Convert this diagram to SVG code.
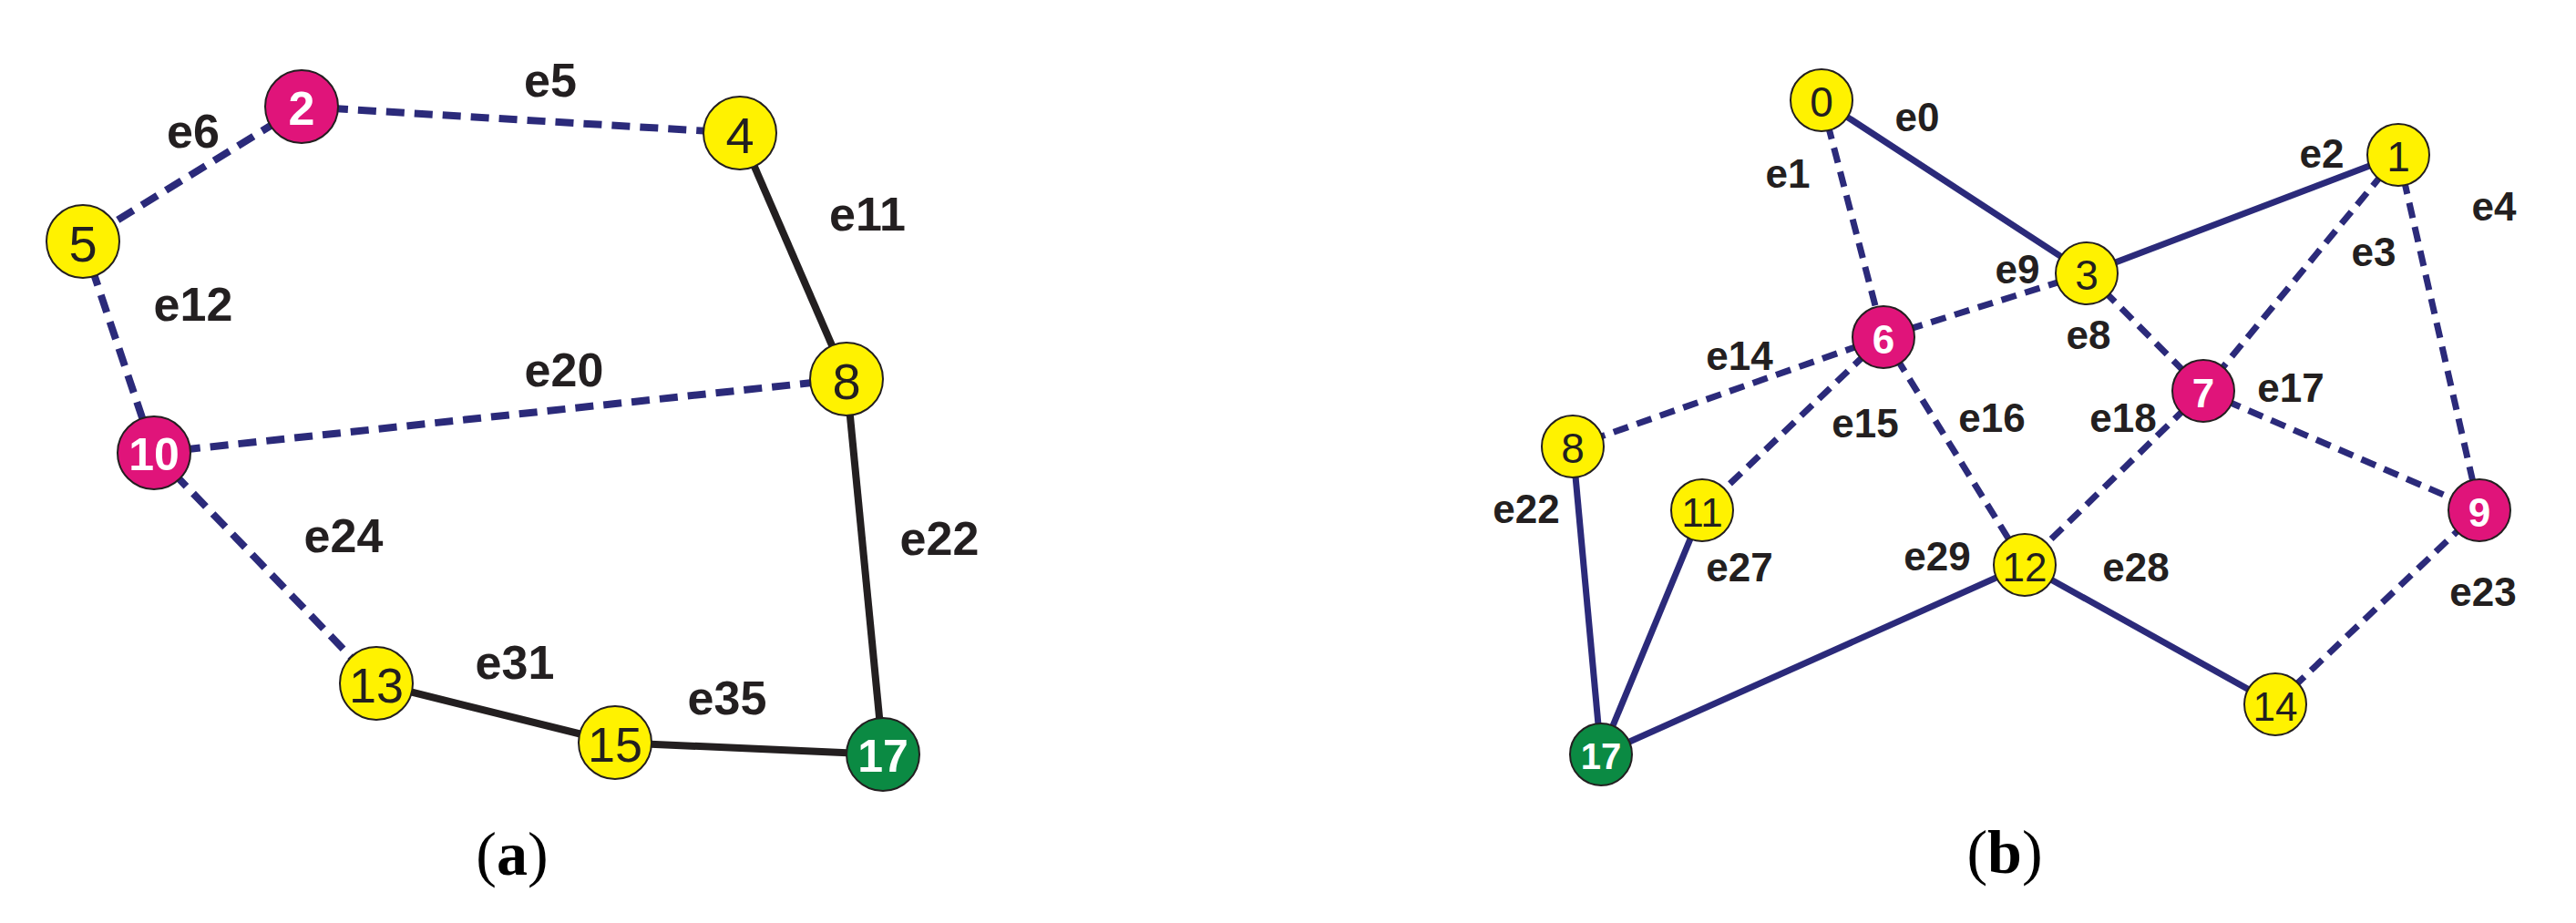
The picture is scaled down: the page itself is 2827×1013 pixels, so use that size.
<svg xmlns="http://www.w3.org/2000/svg" width="2827" height="1013" viewBox="0 0 2827 1013">
<style>
.bg{fill:#fff}
.d{stroke:#2b2a7a;stroke-width:8;stroke-dasharray:20 11;fill:none}
.sa{stroke:#231f20;stroke-width:8;fill:none}
.sb{stroke:#2b2a7a;stroke-width:7;fill:none}
.db{stroke:#2b2a7a;stroke-width:7;stroke-dasharray:17 10;fill:none}
.y{fill:#fff200;stroke:#231f20;stroke-width:2}
.m{fill:#e0147a;stroke:#231f20;stroke-width:2}
.g{fill:#0b8a43;stroke:#231f20;stroke-width:2}
.n{font-family:"Liberation Sans",Arial,sans-serif;text-anchor:middle;dominant-baseline:central;fill:#231f20}
.nw{fill:#fff;font-weight:bold}
.la{font-family:"Liberation Sans",Arial,sans-serif;font-weight:bold;font-size:52px;text-anchor:middle;dominant-baseline:central;fill:#231f20}
.lb{font-family:"Liberation Sans",Arial,sans-serif;font-weight:bold;font-size:44px;text-anchor:middle;dominant-baseline:central;fill:#231f20}
.cap{font-family:"Liberation Serif","Times New Roman",serif;font-size:68px;text-anchor:middle;fill:#000}
</style>
<rect class="bg" width="2827" height="1013"/>
<g id="connectors">
<line class="d" x1="331" y1="117" x2="812" y2="146"/>
<line class="d" x1="331" y1="117" x2="91" y2="265"/>
<line class="d" x1="91" y1="265" x2="169" y2="497"/>
<line class="d" x1="169" y1="497" x2="929" y2="416"/>
<line class="d" x1="169" y1="497" x2="413" y2="750"/>
<line class="sa" x1="812" y1="146" x2="929" y2="416"/>
<line class="sa" x1="929" y1="416" x2="969" y2="828"/>
<line class="sa" x1="413" y1="750" x2="675" y2="815"/>
<line class="sa" x1="675" y1="815" x2="969" y2="828"/>
<line class="sb" x1="1999" y1="110" x2="2290" y2="300"/>
<line class="sb" x1="2290" y1="300" x2="2632" y2="170"/>
<line class="sb" x1="1726" y1="490" x2="1757" y2="828"/>
<line class="sb" x1="1868" y1="560" x2="1757" y2="828"/>
<line class="sb" x1="2222" y1="620" x2="1757" y2="828"/>
<line class="sb" x1="2222" y1="620" x2="2497" y2="773"/>
<line class="db" x1="1999" y1="110" x2="2067" y2="370"/>
<line class="db" x1="2632" y1="170" x2="2418" y2="429"/>
<line class="db" x1="2632" y1="170" x2="2721" y2="560"/>
<line class="db" x1="2290" y1="300" x2="2067" y2="370"/>
<line class="db" x1="2290" y1="300" x2="2418" y2="429"/>
<line class="db" x1="2067" y1="370" x2="1726" y2="490"/>
<line class="db" x1="2067" y1="370" x2="1868" y2="560"/>
<line class="db" x1="2067" y1="370" x2="2222" y2="620"/>
<line class="db" x1="2418" y1="429" x2="2222" y2="620"/>
<line class="db" x1="2418" y1="429" x2="2721" y2="560"/>
<line class="db" x1="2497" y1="773" x2="2721" y2="560"/>
</g>
<g id="labels">
<text class="la" x="604" y="88">e5</text>
<text class="la" x="212" y="144">e6</text>
<text class="la" x="952" y="235">e11</text>
<text class="la" x="212" y="334">e12</text>
<text class="la" x="619" y="406">e20</text>
<text class="la" x="377" y="588">e24</text>
<text class="la" x="1031" y="591">e22</text>
<text class="la" x="565" y="727">e31</text>
<text class="la" x="798" y="766">e35</text>
<text class="lb" x="2104" y="128">e0</text>
<text class="lb" x="1962" y="190">e1</text>
<text class="lb" x="2548" y="168">e2</text>
<text class="lb" x="2737" y="226">e4</text>
<text class="lb" x="2605" y="276">e3</text>
<text class="lb" x="2214" y="295">e9</text>
<text class="lb" x="2292" y="367">e8</text>
<text class="lb" x="1909" y="390">e14</text>
<text class="lb" x="2514" y="425">e17</text>
<text class="lb" x="2047" y="464">e15</text>
<text class="lb" x="2186" y="458">e16</text>
<text class="lb" x="2330" y="458">e18</text>
<text class="lb" x="1675" y="558">e22</text>
<text class="lb" x="1909" y="622">e27</text>
<text class="lb" x="2126" y="610">e29</text>
<text class="lb" x="2344" y="622">e28</text>
<text class="lb" x="2725" y="649">e23</text>
<text class="cap" x="562" y="960">(<tspan font-weight="bold">a</tspan>)</text>
<text class="cap" x="2200" y="958">(<tspan font-weight="bold">b</tspan>)</text>
</g>
<g id="a2"><circle class="m" cx="331" cy="117" r="40"/><text class="n nw" x="331" y="119" font-size="52">2</text></g>
<g id="a4"><circle class="y" cx="812" cy="146" r="40"/><text class="n" x="812" y="148" font-size="56">4</text></g>
<g id="a5"><circle class="y" cx="91" cy="265" r="40"/><text class="n" x="91" y="267" font-size="56">5</text></g>
<g id="a8"><circle class="y" cx="929" cy="416" r="40"/><text class="n" x="929" y="418" font-size="56">8</text></g>
<g id="a10"><circle class="m" cx="169" cy="497" r="40"/><text class="n nw" x="169" y="499" font-size="50">10</text></g>
<g id="a13"><circle class="y" cx="413" cy="750" r="40"/><text class="n" x="413" y="752" font-size="54">13</text></g>
<g id="a15"><circle class="y" cx="675" cy="815" r="40"/><text class="n" x="675" y="817" font-size="54">15</text></g>
<g id="a17"><circle class="g" cx="969" cy="828" r="40"/><text class="n nw" x="969" y="830" font-size="50">17</text></g>
<g id="b0"><circle class="y" cx="1999" cy="110" r="34"/><text class="n" x="1999" y="112" font-size="46">0</text></g>
<g id="b1"><circle class="y" cx="2632" cy="170" r="34"/><text class="n" x="2632" y="172" font-size="46">1</text></g>
<g id="b3"><circle class="y" cx="2290" cy="300" r="34"/><text class="n" x="2290" y="302" font-size="46">3</text></g>
<g id="b6"><circle class="m" cx="2067" cy="370" r="34"/><text class="n nw" x="2067" y="372" font-size="44">6</text></g>
<g id="b7"><circle class="m" cx="2418" cy="429" r="34"/><text class="n nw" x="2418" y="431" font-size="44">7</text></g>
<g id="b8"><circle class="y" cx="1726" cy="490" r="34"/><text class="n" x="1726" y="492" font-size="46">8</text></g>
<g id="b9"><circle class="m" cx="2721" cy="560" r="34"/><text class="n nw" x="2721" y="562" font-size="44">9</text></g>
<g id="b11"><circle class="y" cx="1868" cy="560" r="34"/><text class="n" x="1868" y="562" font-size="44">11</text></g>
<g id="b12"><circle class="y" cx="2222" cy="620" r="34"/><text class="n" x="2222" y="622" font-size="44">12</text></g>
<g id="b14"><circle class="y" cx="2497" cy="773" r="34"/><text class="n" x="2497" y="775" font-size="44">14</text></g>
<g id="b17"><circle class="g" cx="1757" cy="828" r="34"/><text class="n nw" x="1757" y="830" font-size="40">17</text></g>
</svg>
